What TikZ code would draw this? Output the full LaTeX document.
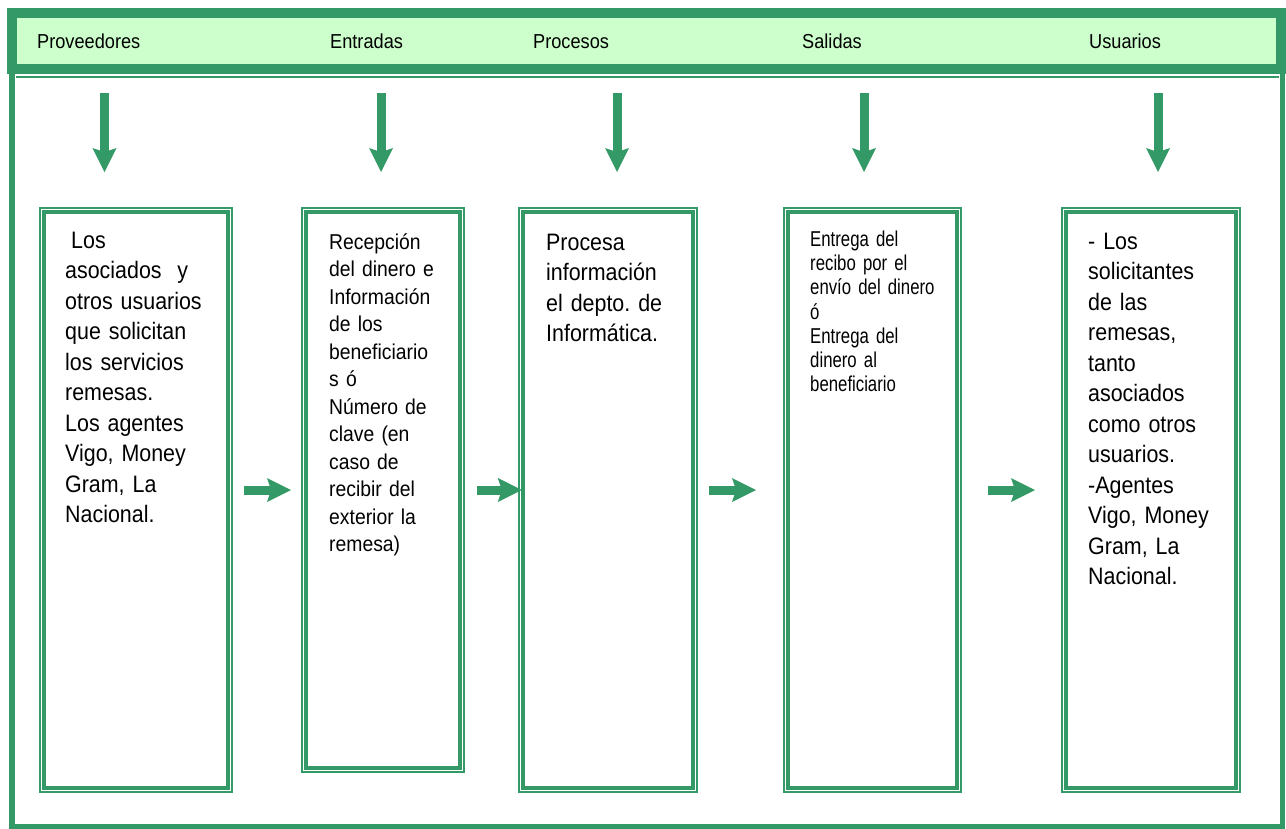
\documentclass[tikz,border=0pt]{standalone}
\usepackage{fontspec}
\setmainfont[FakeStretch=0.9]{Liberation Sans}
\newfontfamily\narrowsans[FakeStretch=0.78]{Liberation Sans}
\usetikzlibrary{arrows.meta,calc}
\frenchspacing

\definecolor{flowgreen}{RGB}{51,153,102}
\definecolor{headfill}{RGB}{204,255,204}

\tikzset{
  flow/.style={draw=flowgreen, line width=9pt,
    -{Stealth[length=24pt,width=24pt,inset=4pt,line width=0pt]}},
  stage/.style={rectangle, draw=flowgreen, line width=3.6pt,
    inner sep=0pt, outer sep=0pt},
  stagetext/.style={anchor=base west, inner sep=0pt, align=left, text width=170pt},
  headtext/.style={anchor=base west, inner sep=0pt,
    font=\fontsize{20.2}{24}\selectfont},
}

\begin{document}
\begin{tikzpicture}[x=1pt,y=1pt,yscale=-1,xscale=1]
\useasboundingbox (0,0) rectangle (1286,828);

%Outer frame
\draw[flowgreen, line width=2pt] (16,77) -- (1279,77);
\draw[flowgreen, line width=5.5pt] (12,70) -- (12,826.5) -- (1282.5,826.5) -- (1282.5,70);
%Header band
\draw[flowgreen, fill=headfill, line width=10pt] (11.5,13) rectangle (1281,69);

% Header labels
\node[headtext] (hprov) at (37,48) {Proveedores};
\node[headtext] (hent) at (330,48) {Entradas};
\node[headtext] (hproc) at (533,48) {Procesos};
\node[headtext] (hsal) at (802,48) {Salidas};
\node[headtext] (husu) at (1089,48) {Usuarios};

%Down arrows
\foreach \x [count=\i] in {104.5,381,617,864,1158}{
  \coordinate (top\i) at (\x,93);
  \coordinate (tip\i) at (\x,172);
  \draw[flow] (top\i) -- (tip\i);
}

%Stage boxes
\node[stage, minimum width=183.6pt, minimum height=575.6pt] (prov) at (136,500) {};
\node[stage, minimum width=153.6pt, minimum height=555.6pt] (ent) at (383,490) {};
\node[stage, minimum width=169.6pt, minimum height=575.6pt] (proc) at (608,500) {};
\node[stage, minimum width=168.6pt, minimum height=575.6pt] (sal) at (872.5,500) {};
\node[stage, minimum width=169.6pt, minimum height=575.6pt] (usu) at (1151,500) {};
%thin outer line of each box
\foreach \b in {prov,ent,proc,sal,usu}
  \draw[flowgreen, line width=1.2pt] ($(\b.north west)+(-4.2,-4.2)$) rectangle ($(\b.south east)+(4.2,4.2)$);

% Text Node
\node[stagetext, font=\fontsize{23.8}{30.5}\selectfont] (tprov) at (65,248)
  {\hspace*{6pt}Los\\ asociados\ \ y\\ otros usuarios\\ que solicitan\\ los servicios\\ remesas.\\ Los agentes\\ Vigo, Money\\ Gram, La\\ Nacional.};
% Text Node
\node[stagetext, font=\fontsize{21.5}{27.5}\selectfont] (tent) at (329,249)
  {Recepción\\ del dinero e\\ Información\\ de los\\ beneficiario\\ s ó\\ Número de\\ clave (en\\ caso de\\ recibir del\\ exterior la\\ remesa)};
% Text Node
\node[stagetext, font=\fontsize{23.8}{30.5}\selectfont] (tproc) at (546,250)
  {Procesa\\ información\\ el depto. de\\ Informática.};
% Text Node
\node[stagetext, font=\narrowsans\fontsize{21.5}{24.2}\selectfont] (tsal) at (810,246.5)
  {Entrega del\\ recibo por el\\ envío del dinero\\ ó\\ Entrega del\\ dinero al\\ beneficiario};
% Text Node
\node[stagetext, font=\fontsize{23.8}{30.5}\selectfont] (tusu) at (1088,249)
  {- Los\\ solicitantes\\ de las\\ remesas,\\ tanto\\ asociados\\ como otros\\ usuarios.\\ -Agentes\\ Vigo, Money\\ Gram, La\\ Nacional.};

%Flow between stages
\draw[flow, shorten <=16.2pt, shorten >=15.2pt] (prov.east |- ent.west) -- (ent.west);
\draw[flow, shorten <=17.2pt, shorten >=1.4pt] (ent.east) -- (proc.west |- ent.east);
\draw[flow, shorten <=16.4pt, shorten >=32.2pt] (proc.east |- ent.east) -- (sal.west |- ent.east);
\draw[flow, shorten <=31.2pt, shorten >=31.2pt] (sal.east |- ent.east) -- (usu.west |- ent.east);
\end{tikzpicture}
\end{document}
